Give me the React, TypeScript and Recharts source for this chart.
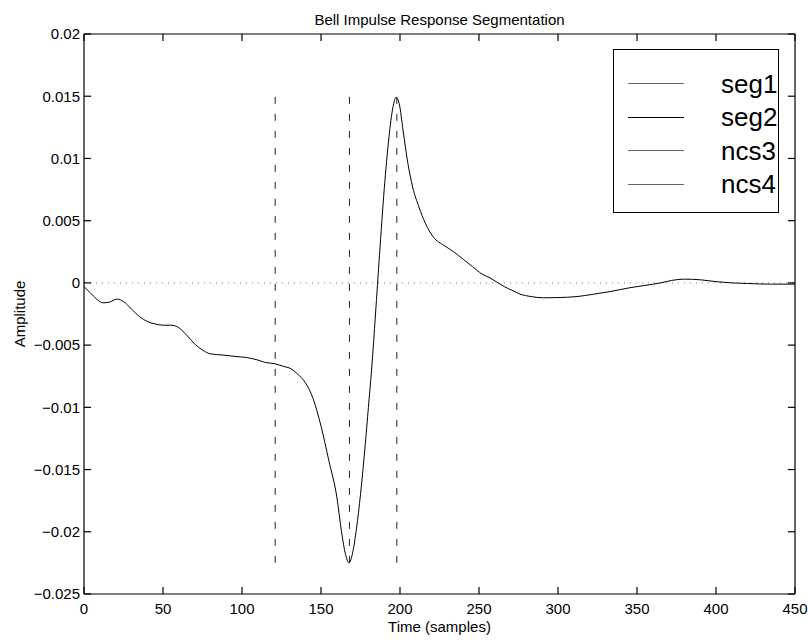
import { LineChart, Line, XAxis, YAxis, ReferenceLine, Legend } from "recharts";

const TIME = [
  0, 4, 8, 12, 16, 21, 25, 30, 35, 40, 45, 50, 55, 60, 65, 70, 75, 80, 88, 95, 103, 110, 115, 121, 126, 131,
  135, 140, 145, 150, 155, 160, 163, 165.5, 167.7, 170, 172.5, 175, 178, 180, 182, 184.5, 187, 190, 193, 195.5,
  197.5, 199.5, 202, 205, 208, 212, 216, 221, 228, 234, 240, 246, 252, 257, 262, 266, 271, 276, 283, 291, 300,
  312, 323, 333, 345, 355, 365, 372, 380, 390, 400, 410, 420, 435, 450,
];

const AMPLITUDE = [
  -0.0003, -0.0008, -0.0013, -0.0016, -0.00155, -0.0013, -0.0015, -0.0021, -0.0027, -0.0031, -0.0033, -0.0034,
  -0.0034, -0.0036, -0.0042, -0.0049, -0.0054, -0.0057, -0.0058, -0.0059, -0.006, -0.0062, -0.0064, -0.0065,
  -0.0067, -0.0069, -0.0073, -0.008, -0.0093, -0.0115, -0.0143, -0.0172, -0.02, -0.0218, -0.0225, -0.0217,
  -0.0197, -0.017, -0.013, -0.01, -0.007, -0.0025, 0.0022, 0.0075, 0.0117, 0.0141, 0.0149, 0.0144, 0.0122,
  0.0096, 0.0077, 0.0061, 0.0048, 0.0037, 0.003, 0.0025, 0.0019, 0.0013, 0.0007, 0.0004, 0.0, -0.0003, -0.0006,
  -0.0009, -0.0011, -0.0012, -0.00118, -0.0011, -0.0009, -0.0007, -0.0004, -0.0002, 0.0, 0.0002, 0.0003,
  0.00025, 0.0001, 0.0, -0.00005, -0.0001, -0.0001,
];

// segment boundaries (dashed markers)
const SEGMENT_X = [121, 168, 198];
const SEGMENT_LOW = -0.0225;
const SEGMENT_HIGH = 0.015;

const X_TICKS = [0, 50, 100, 150, 200, 250, 300, 350, 400, 450];
const Y_TICKS = [-0.025, -0.02, -0.015, -0.01, -0.005, 0, 0.005, 0.01, 0.015, 0.02];
const X_MIN = 0;
const X_MAX = 450;
const Y_MIN = -0.025;
const Y_MAX = 0.02;

const LEGEND_NAMES = ["seg1", "seg2", "ncs3", "ncs4"];
const LEGEND_COLORS = ["#666", "#000", "#666", "#666"];

const data = TIME.map((t, i) => ({ t, amp: AMPLITUDE[i] }));

const FONT = "'Liberation Sans', Arial, Helvetica, sans-serif";
// inward tick length in data units (~7px each way)
const TICK_DX = 4.5;
const TICK_DY = 0.00056;
const fmtY = (v: number) => (v < 0 ? "\u2212" + String(Math.abs(v)) : String(v));

const LegendBox = () => (
  <div
    style={{
      width: 166,
      height: 164,
      border: "1.5px solid #000",
      background: "#fff",
      boxSizing: "border-box",
      fontFamily: FONT,
      fontSize: 26,
      color: "#000",
      paddingTop: 17,
    }}
  >
    {LEGEND_NAMES.map((name, i) => (
      <div key={name} style={{ display: "flex", alignItems: "center", height: 33.5 }}>
        <div style={{ marginLeft: 14, width: 56, height: 0, borderTop: `1px solid ${LEGEND_COLORS[i]}` }} />
        <span style={{ marginLeft: 37, lineHeight: "26px" }}>{name}</span>
      </div>
    ))}
  </div>
);

const axisLine = { stroke: "#000", strokeWidth: 1.2 };

export default function App() {
  return (
    <div style={{ width: 808, height: 640, background: "#fff" }}>
      <style>{`body{margin:0}`}</style>
      <LineChart
        width={808}
        height={640}
        data={data}
        margin={{ top: 14, right: 8, bottom: 6, left: 24 }}
        style={{ fontFamily: FONT }}
      >
        <XAxis
          dataKey="t"
          type="number"
          domain={[X_MIN, X_MAX]}
          ticks={X_TICKS}
          interval={0}
          height={40}
          tickSize={0}
          tickMargin={9}
          tick={{ fill: "#000", fontSize: 15 }}
          tickLine={false}
          axisLine={axisLine}
          label={{ value: "Time (samples)", position: "bottom", offset: -13, fill: "#000", fontSize: 15 }}
        />
        <XAxis
          xAxisId="top"
          orientation="top"
          dataKey="t"
          type="number"
          domain={[X_MIN, X_MAX]}
          ticks={X_TICKS}
          height={20}
          tick={false}
          tickLine={false}
          axisLine={axisLine}
          label={{
            value: "Bell Impulse Response Segmentation",
            position: "top",
            offset: -11,
            fill: "#000",
            fontSize: 15,
          }}
        />
        <YAxis
          type="number"
          domain={[Y_MIN, Y_MAX]}
          ticks={Y_TICKS}
          interval={0}
          width={60}
          tickSize={0}
          tickMargin={4}
          tickFormatter={fmtY}
          tick={{ fill: "#000", fontSize: 15 }}
          tickLine={false}
          axisLine={axisLine}
          label={{
            value: "Amplitude",
            angle: -90,
            position: "left",
            offset: 4,
            fill: "#000",
            fontSize: 15,
            style: { textAnchor: "middle" },
          }}
        />
        <YAxis
          yAxisId="right"
          orientation="right"
          type="number"
          domain={[Y_MIN, Y_MAX]}
          ticks={Y_TICKS}
          width={5}
          tick={false}
          tickLine={false}
          axisLine={axisLine}
        />
        <ReferenceLine y={0} stroke="#777" strokeDasharray="1 5" />
        {/* matlab-style inward tick marks on all four sides */}
        {X_TICKS.map((t) => (
          <ReferenceLine
            key={`xb${t}`}
            segment={[
              { x: t, y: Y_MIN },
              { x: t, y: Y_MIN + TICK_DY },
            ]}
            stroke="#000"
            strokeWidth={1.2}
            ifOverflow="visible"
          />
        ))}
        {X_TICKS.map((t) => (
          <ReferenceLine
            key={`xt${t}`}
            segment={[
              { x: t, y: Y_MAX },
              { x: t, y: Y_MAX - TICK_DY },
            ]}
            stroke="#000"
            strokeWidth={1.2}
            ifOverflow="visible"
          />
        ))}
        {Y_TICKS.map((v) => (
          <ReferenceLine
            key={`yl${v}`}
            segment={[
              { x: X_MIN, y: v },
              { x: X_MIN + TICK_DX, y: v },
            ]}
            stroke="#000"
            strokeWidth={1.2}
            ifOverflow="visible"
          />
        ))}
        {Y_TICKS.map((v) => (
          <ReferenceLine
            key={`yr${v}`}
            segment={[
              { x: X_MAX - TICK_DX, y: v },
              { x: X_MAX, y: v },
            ]}
            stroke="#000"
            strokeWidth={1.2}
            ifOverflow="visible"
          />
        ))}
        {SEGMENT_X.map((x) => (
          <ReferenceLine
            key={x}
            segment={[
              { x, y: SEGMENT_LOW },
              { x, y: SEGMENT_HIGH },
            ]}
            stroke="#222"
            strokeDasharray="7 10"
          />
        ))}
        <Line
          dataKey="amp"
          type="monotone"
          stroke="#000"
          strokeWidth={1}
          dot={false}
          isAnimationActive={false}
        />
        <Legend
          layout="vertical"
          align="center"
          verticalAlign="middle"
          content={() => <LegendBox />}
          wrapperStyle={{ left: 613, top: 49, width: 166, height: 164 }}
        />
      </LineChart>
    </div>
  );
}
